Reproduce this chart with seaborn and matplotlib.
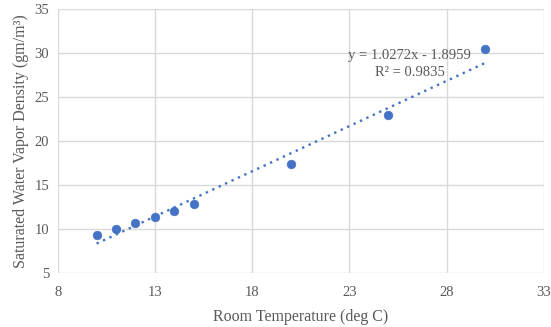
import matplotlib
matplotlib.use("Agg")
import matplotlib.pyplot as plt
import seaborn as sns
import numpy as np
import pandas as pd

# measured points
temps = [10, 11, 12, 13, 14, 15, 20, 25, 30]
density = [9.4, 10.05, 10.7, 11.4, 12.1, 12.85, 17.4, 23.0, 30.45]

# linear trendline as reported on the chart
slope = 1.0272
intercept = -1.8959
r2 = 0.9835

xticks = [8, 13, 18, 23, 28, 33]
yticks = [5, 10, 15, 20, 25, 30, 35]

blue = "#4472C4"
grid = "#D9D9D9"
txt = "#595959"

sns.set_style("white")
plt.rcParams['font.family'] = ['Liberation Serif', 'DejaVu Serif']

df = pd.DataFrame({"temp": temps, "dens": density})
trend = pd.DataFrame({"temp": [min(temps), max(temps)]})
trend["dens"] = slope * trend["temp"] + intercept

fig = plt.figure(figsize=(5.51, 3.27), dpi=100)
ax = fig.add_axes([0.1047, 0.1642, 0.8823, 0.8074])

sns.lineplot(data=trend, x="temp", y="dens", ax=ax, color=blue,
             linestyle=(0, (1, 2)), linewidth=1.7, zorder=2)
sns.scatterplot(data=df, x="temp", y="dens", ax=ax, color=blue, s=38,
                edgecolor=blue, linewidth=0.5, zorder=3)

ax.set_xlim(8, 33)
ax.set_ylim(5, 35)
ax.set_xticks(xticks)
ax.set_yticks(yticks)
ax.grid(True, color=grid, linewidth=1)
ax.set_axisbelow(True)
for s in ax.spines.values():
    s.set_visible(False)
ax.tick_params(axis="y", length=0, labelsize=10.5, colors=txt, pad=6)
ax.tick_params(axis="x", length=0, labelsize=10.5, colors=txt, pad=9)

ax.set_xlabel("Room Temperature (deg C)", fontsize=11.5, color=txt, labelpad=7)
ax.set_ylabel("Saturated Water Vapor Density (gm/m³)", fontsize=11.5, color=txt, labelpad=4)

ax.text(26.1, 28.8, f"y = {slope}x - {abs(intercept)}\nR² = {r2}",
        ha="center", va="center", fontsize=10.5, color=txt, linespacing=1.45)

fig.savefig("out.png", dpi=100)
